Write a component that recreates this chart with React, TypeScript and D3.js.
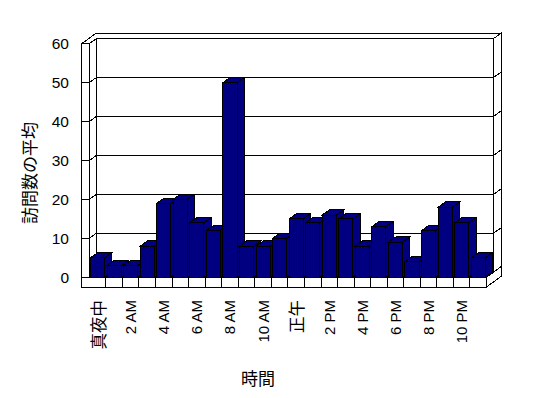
import React from "react";
import * as d3 from "d3";

const hours = [
  "真夜中", "1 AM", "2 AM", "3 AM", "4 AM", "5 AM", "6 AM", "7 AM", "8 AM", "9 AM", "10 AM", "11 AM",
  "正午", "1 PM", "2 PM", "3 PM", "4 PM", "5 PM", "6 PM", "7 PM", "8 PM", "9 PM", "10 PM", "11 PM",
];
const visits = [5, 3, 3, 8, 19, 20, 14, 12, 50, 8, 8, 10, 15, 14, 16, 15, 8, 13, 9, 4, 12, 18, 14, 5];
const yTicks = [0, 10, 20, 30, 40, 50, 60];
const shownHours = ["真夜中", "2 AM", "4 AM", "6 AM", "8 AM", "10 AM", "正午", "2 PM", "4 PM", "6 PM", "8 PM", "10 PM"];
const yTitle = "訪問数の平均";
const xTitle = "時間";

const W = 548;
const H = 398;
const X0 = 89.3;
const X1 = 486.5;
const WALL = 7.6;
const FLOOR = 9.7;
const DX = 7.3;
const DY = 5.3;
const LATIN = "'Liberation Sans', Arial, sans-serif";
const CJK = "'Noto Sans CJK JP', 'Noto Sans CJK SC', sans-serif";
const BAR = "#000080";

const pts = (a: number[][]) => a.map((p) => p.join(",")).join(" ");
const isCJK = (s: string) => /[\u3000-\u9fff]/.test(s);

export default function App() {
  const x = d3.scaleBand<string>().domain(hours).range([X0, X1]).paddingInner(0.15).paddingOuter(0.075);
  const cell = d3.scaleBand<string>().domain(hours).range([X0, X1]);
  const y = d3.scaleLinear().domain([0, 60]).range([277.3, 43.7]);
  const y0 = y(0);
  const yT = y(60);
  const L = X0 - WALL;
  const stroke = { stroke: "#000", strokeWidth: 1 };

  return (
    <svg
      width={W}
      height={H}
      style={{ position: "absolute", left: 0, top: 0, background: "#fff" }}
      shapeRendering="crispEdges"
    >
      <rect x={0} y={0} width={W} height={H} fill="#fff" />
      {/* floor slab */}
      <polygon
        points={pts([[L, y0], [X1, y0], [X1 + 2 * DX, y0 - 2 * DY], [L + 2 * DX, y0 - 2 * DY]])}
        fill="#fff"
        {...stroke}
      />
      <rect x={L} y={y0} width={X1 - L} height={FLOOR} fill="#fff" {...stroke} />
      <polygon
        points={pts([[X1, y0], [X1, y0 + FLOOR], [X1 + 2 * DX, y0 + FLOOR - 2 * DY], [X1 + 2 * DX, y0 - 2 * DY]])}
        fill="#fff"
        {...stroke}
      />
      {hours.slice(1).map((h) => (
        <line key={"fd" + h} x1={cell(h)!} x2={cell(h)!} y1={y0} y2={y0 + FLOOR} {...stroke} />
      ))}
      {/* back wall: front face, right face */}
      <rect x={X0 + DX} y={yT - DY} width={X1 - X0} height={y0 - yT} fill="#fff" {...stroke} />
      <polygon
        points={pts([[X1 + DX, yT - DY], [X1 + 2 * DX, yT - 2 * DY], [X1 + 2 * DX, y0 - 2 * DY], [X1 + DX, y0 - DY]])}
        fill="#fff"
        {...stroke}
      />
      {yTicks.map((t) => (
        <g key={"g" + t}>
          <line x1={X0 + DX} x2={X1 + DX} y1={y(t) - DY} y2={y(t) - DY} {...stroke} />
          <line x1={X1 + DX} x2={X1 + 2 * DX} y1={y(t) - DY} y2={y(t) - 2 * DY} {...stroke} />
        </g>
      ))}
      {/* left wall: inner face, front face */}
      <polygon
        points={pts([[X0, yT], [X0 + DX, yT - DY], [X0 + DX, y0 - DY], [X0, y0]])}
        fill="#fff"
        {...stroke}
      />
      <rect x={L} y={yT} width={WALL} height={y0 - yT} fill="#fff" {...stroke} />
      {yTicks.map((t) => (
        <g key={"w" + t}>
          <line x1={L} x2={X0} y1={y(t)} y2={y(t)} {...stroke} />
          <line x1={X0} x2={X0 + DX} y1={y(t)} y2={y(t) - DY} {...stroke} />
        </g>
      ))}
      {/* top of walls */}
      <polygon
        points={pts([
          [L, yT],
          [L + 2 * DX, yT - 2 * DY],
          [X1 + 2 * DX, yT - 2 * DY],
          [X1 + DX, yT - DY],
          [X0 + DX, yT - DY],
          [X0, yT],
        ])}
        fill="#fff"
        {...stroke}
      />
      {/* bars */}
      {hours.map((h, i) => {
        const bx = x(h)!;
        const bw = x.bandwidth();
        const top = y(visits[i]);
        return (
          <g key={"b" + h} fill={BAR} {...stroke}>
            <polygon points={pts([[bx, top], [bx + DX, top - DY], [bx + bw + DX, top - DY], [bx + bw, top]])} />
            <polygon points={pts([[bx + bw, top], [bx + bw + DX, top - DY], [bx + bw + DX, y0 - DY], [bx + bw, y0]])} />
            <rect x={bx} y={top} width={bw} height={y0 - top} />
          </g>
        );
      })}
      {/* y tick labels */}
      {yTicks.map((t) => (
        <text key={"yt" + t} x={69} y={y(t)} textAnchor="end" dominantBaseline="central" fontFamily={LATIN} fontSize={15.5} fill="#000">
          {t}
        </text>
      ))}
      {/* x tick labels */}
      {shownHours.map((h) => {
        const cx = cell(h)! + cell.bandwidth() / 2;
        return (
          <text
            key={"xt" + h}
            transform={`translate(${cx},300) rotate(-90)`}
            textAnchor="end"
            dominantBaseline="central"
            fontFamily={isCJK(h) ? CJK : LATIN}
            fontSize={isCJK(h) ? 16.5 : 15}
            fill="#000"
          >
            {h}
          </text>
        );
      })}
      <text transform="translate(28,173) rotate(-90)" textAnchor="middle" dominantBaseline="central" fontFamily={CJK} fontSize={17} fill="#000">
        {yTitle}
      </text>
      <text x={258} y={377} textAnchor="middle" dominantBaseline="central" fontFamily={CJK} fontSize={17} fill="#000">
        {xTitle}
      </text>
    </svg>
  );
}
